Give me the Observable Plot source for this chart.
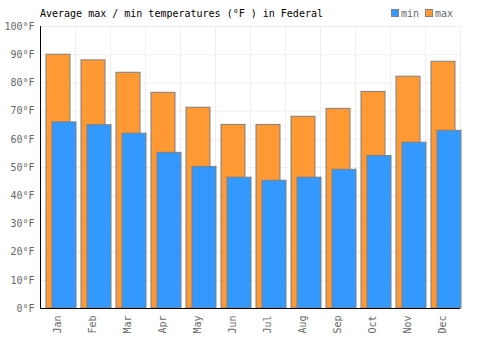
<!DOCTYPE html>
<html><head><meta charset="utf-8">
<script src="https://cdn.jsdelivr.net/npm/d3@7"></script>
<script src="https://cdn.jsdelivr.net/npm/@observablehq/plot@0.6"></script>
<style>
body{margin:0;background:#fff;}
#wrap{position:relative;width:500px;height:350px;font-family:"DejaVu Sans Mono",monospace;}
#title{position:absolute;left:40px;top:8px;font-size:10px;line-height:12px;color:#000;white-space:nowrap;}
#legend{position:absolute;left:391px;top:8px;font-size:10px;line-height:12px;color:#666;white-space:nowrap;}
.sw{display:inline-block;width:6px;height:6px;border:1px solid #808080;margin-right:2px;vertical-align:0px;}
.item{margin-right:6px;}
#chart{position:absolute;left:0;top:0;}
</style></head>
<body>
<div id="wrap">
<div id="chart"></div>
<div id="title">Average max / min temperatures (°F ) in Federal</div>
<div id="legend"></div>
</div>
<script>
const months = ["Jan","Feb","Mar","Apr","May","Jun","Jul","Aug","Sep","Oct","Nov","Dec"];
const maxTemps = [90, 88, 83.6, 76.5, 71.2, 65.1, 65.1, 68, 70.8, 76.8, 82.2, 87.5];
const minTemps = [66, 65, 62, 55.2, 50.2, 46.4, 45.3, 46.4, 49.2, 54.1, 58.8, 63];
const yTicks = [0,10,20,30,40,50,60,70,80,90,100];
const seriesNames = ["min","max"];
const seriesColors = ["#3399ff","#ff9933"];

const data = months.map((m,i)=>({month:m, max:maxTemps[i], min:minTemps[i]}));

const chart = Plot.plot({
  width:500, height:350,
  marginTop:26, marginBottom:42, marginLeft:40, marginRight:40,
  style:{fontFamily:"DejaVu Sans Mono, monospace", fontSize:"10px", color:"#666", background:"white"},
  x:{domain:months, padding:0, tickSize:0, tickPadding:7, tickRotate:-90, label:null},
  y:{domain:[0,100], ticks:yTicks, tickFormat:d=>d+"°F", label:null, tickSize:0, tickPadding:6},
  marks:[
    Plot.gridY(yTicks.filter(d=>d>0), {stroke:"#eeeeee", strokeOpacity:1}),
    Plot.ruleX(months, {x:d=>d, dx:17.5, stroke:"#eeeeee", strokeOpacity:1}),
    Plot.barY(data, {x:"month", y:"max", fill:seriesColors[1], stroke:"#808080", strokeWidth:1, insetLeft:6, insetRight:5}),
    Plot.barY(data, {x:"month", y:"min", fill:seriesColors[0], stroke:"#808080", strokeWidth:1, insetLeft:11, insetRight:0, dx:1}),
    Plot.frame({anchor:"left", stroke:"black"}),
    Plot.ruleY([0], {stroke:"black"})
  ]
});
document.getElementById("chart").appendChild(chart);

const legend = document.getElementById("legend");
seriesNames.forEach((n,i)=>{
  const s = document.createElement("span");
  s.className="item";
  s.innerHTML = `<span class="sw" style="background:${seriesColors[i]}"></span>${n}`;
  legend.appendChild(s);
});
</script>
</body></html>
